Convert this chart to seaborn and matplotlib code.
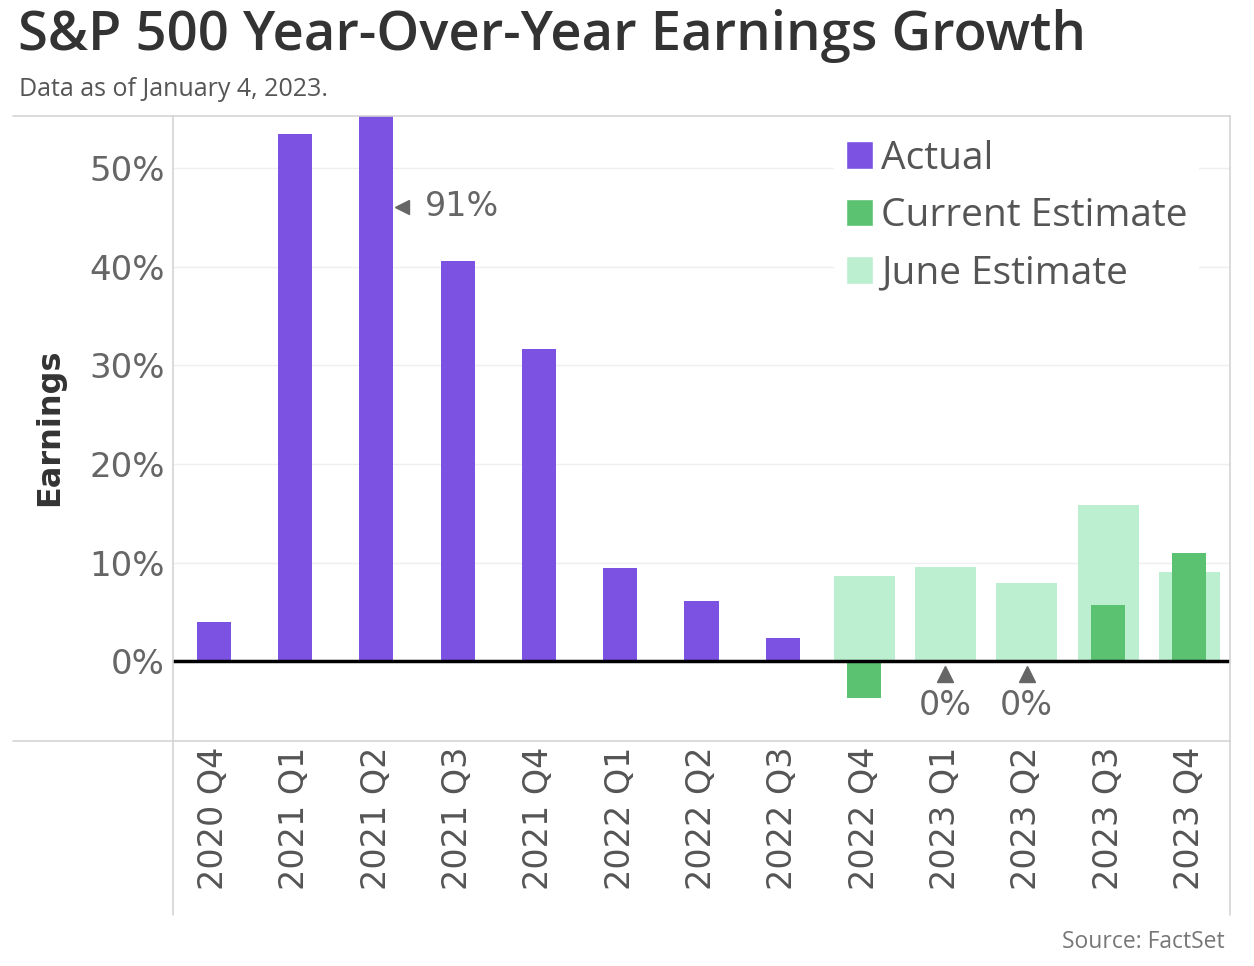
import matplotlib
matplotlib.use("Agg")
import matplotlib.pyplot as plt
import pandas as pd
import seaborn as sns
from matplotlib.lines import Line2D
from matplotlib.patches import Patch

# --- data ---
quarters = ["2020 Q4", "2021 Q1", "2021 Q2", "2021 Q3", "2021 Q4", "2022 Q1", "2022 Q2",
            "2022 Q3", "2022 Q4", "2023 Q1", "2023 Q2", "2023 Q3", "2023 Q4"]
actual_quarters = quarters[:8]
actual_values = [4.0, 53.5, 91.0, 40.6, 31.7, 9.4, 6.1, 2.3]
estimate_quarters = quarters[8:]
current_estimate = [-3.7, 0.0, 0.0, 5.7, 11.0]
june_estimate = [8.6, 9.6, 7.9, 15.8, 9.0]
y_ticks = [0, 10, 20, 30, 40, 50]

PURPLE = "#7b52e2"
GREEN = "#5ac271"
LIGHT_GREEN = "#bbefd0"
GRAY_TXT = "#666666"

sns.set_theme(style="white")
plt.rcParams["font.family"] = ["DejaVu Sans"]

df_actual = pd.DataFrame({"quarter": actual_quarters, "value": actual_values})
df_june = pd.DataFrame({"quarter": estimate_quarters, "value": june_estimate})
df_current = pd.DataFrame({"quarter": estimate_quarters, "value": current_estimate})

fig = plt.figure(figsize=(12.54, 9.66), dpi=100)
ax = fig.add_axes([173 / 1254, 1 - 741 / 966, (1230 - 173) / 1254, (741 - 116) / 966])

sns.barplot(data=df_june, x="quarter", y="value", order=quarters, color=LIGHT_GREEN,
            width=0.75, linewidth=0, saturation=1, ax=ax, zorder=2)
sns.barplot(data=df_actual, x="quarter", y="value", order=quarters, color=PURPLE,
            width=0.42, linewidth=0, saturation=1, ax=ax, zorder=3)
sns.barplot(data=df_current, x="quarter", y="value", order=quarters, color=GREEN,
            width=0.42, linewidth=0, saturation=1, ax=ax, zorder=3)

ax.set_xlim(-0.5, len(quarters) - 0.5)
ax.set_ylim(-8.1, 55.3)
ax.set_yticks(y_ticks)
ax.set_yticklabels([f"{t}%" for t in y_ticks])
ax.tick_params(axis="y", length=0, pad=6, labelsize=24.5, labelcolor=GRAY_TXT)
ax.tick_params(axis="x", length=0, pad=4, labelsize=24, labelcolor="#555555")
plt.setp(ax.get_xticklabels(), rotation=90)
ax.set_xlabel("")
ax.set_ylabel("")
ax.grid(axis="y", color="#efefef", linewidth=1, zorder=0)
ax.set_axisbelow(True)
ax.axhline(0, color="black", linewidth=2.5, zorder=4)
for s in ax.spines.values():
    s.set_visible(False)

# annotations
ax.text(2.6, 46.1, "91%", fontsize=24, color=GRAY_TXT, va="center", ha="left")
ax.plot([2.32], [46.1], marker="<", color=GRAY_TXT, markersize=10, clip_on=False, zorder=5)
for q in ["2023 Q1", "2023 Q2"]:
    i = quarters.index(q)
    ax.plot([i], [-1.3], marker="^", color=GRAY_TXT, markersize=11, zorder=5)
    ax.text(i, -4.5, "0%", fontsize=24, color=GRAY_TXT, ha="center", va="center")

# legend
handles = [Patch(facecolor=PURPLE, label="Actual"),
           Patch(facecolor=GREEN, label="Current Estimate"),
           Patch(facecolor=LIGHT_GREEN, label="June Estimate")]
leg = ax.legend(handles=handles, loc="upper left", bbox_to_anchor=(0.607, 1.012),
                frameon=True, framealpha=1, facecolor="white", edgecolor="none",
                handlelength=0.7, handleheight=0.7, handletextpad=0.2,
                labelspacing=0.5, borderpad=0.3,
                prop={"family": "Open Sans", "size": 28})
for t in leg.get_texts():
    t.set_color("#555555")
leg.set_zorder(6)

# frame lines
line_kw = dict(color="#d4d4d4", linewidth=1.2, transform=fig.transFigure)
fig.add_artist(Line2D([13 / 1254, 1230 / 1254], [1 - 116 / 966] * 2, **line_kw))
fig.add_artist(Line2D([13 / 1254, 1230 / 1254], [1 - 741 / 966] * 2, **line_kw))
fig.add_artist(Line2D([173 / 1254] * 2, [1 - 116 / 966, 1 - 915 / 966], **line_kw))
fig.add_artist(Line2D([1230 / 1254] * 2, [1 - 116 / 966, 1 - 915 / 966], **line_kw))

# titles
fig.text(18 / 1254, 1 - 36 / 966, "S&P 500 Year-Over-Year Earnings Growth", fontsize=39.2,
         family="Open Sans", fontweight="semibold", color="#333333", va="center", ha="left")
fig.text(19 / 1254, 1 - 89 / 966, "Data as of January 4, 2023.", fontsize=18,
         family="Open Sans", color="#555555", va="center", ha="left")
fig.text(50 / 1254, 1 - 427 / 966, "Earnings", fontsize=23, fontweight="bold",
         color="#333333", rotation=90, va="center", ha="center")
fig.text(1225 / 1254, 1 - 942 / 966, "Source: FactSet", fontsize=16.5,
         family="Open Sans", color="#777777", va="center", ha="right")

fig.savefig("out.png", dpi=100, facecolor="white")
